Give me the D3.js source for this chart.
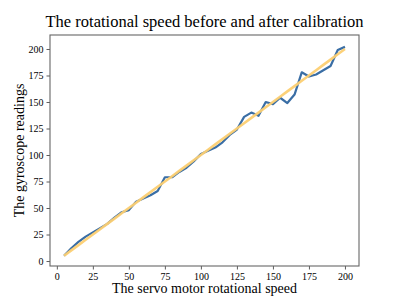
<!DOCTYPE html>
<html><head><meta charset="utf-8">
<script src="https://cdn.jsdelivr.net/npm/d3@7"></script>
<style>body{margin:0;background:#fff}svg{display:block}text{font-family:"Liberation Serif","Times New Roman",serif;fill:#000}</style>
</head><body><svg id="c" width="399" height="299"></svg>
<script>
const speeds = [5,10,15,20,25,30,35,40,45,50,55,60,65,70,75,80,85,90,95,100,105,110,115,120,125,130,135,140,145,150,155,160,165,170,175,180,185,190,195,200];
const gyroRaw = [5,12,18,23,27,31,35,41,46,48,56,59,62,66,79,79,84,88,94,101,104,107,112,119,124,136,140,137,150,148,154,149,157,178,174,176,180,184,199,202];
const calibrated = speeds.slice();
const xTicks = [0,25,50,75,100,125,150,175,200];
const yTicks = [0,25,50,75,100,125,150,175,200];

const svg = d3.select("#c");
const L=50,R=359,T=35,B=266;
const x = d3.scaleLinear().domain([-4.75,209.75]).range([L,R]);
const y = d3.scaleLinear().domain([-4.7,213.2]).range([B,T]);

const line = d3.line().x((d,i)=>x(speeds[i])).y(d=>y(d));
svg.append("path").datum(gyroRaw).attr("d",line).attr("fill","none").attr("stroke","#3a6ea5").attr("stroke-width",2.2).attr("stroke-linejoin","round");
svg.append("path").datum(calibrated).attr("d",line).attr("fill","none").attr("stroke","#fccf72").attr("stroke-width",2.6).attr("stroke-opacity",0.95);

const xa = svg.append("g").attr("transform",`translate(0,${B})`).call(d3.axisBottom(x).tickValues(xTicks).tickSize(3.5).tickPadding(3));
const ya = svg.append("g").attr("transform",`translate(${L},0)`).call(d3.axisLeft(y).tickValues(yTicks).tickSize(3.5).tickPadding(3));
[xa,ya].forEach(a=>{a.select(".domain").remove();a.selectAll("line").attr("stroke","#333").attr("stroke-width",0.8);a.selectAll("text").style("font-family","'Liberation Serif',serif").style("font-size","10px").attr("fill","#000");});

svg.append("rect").attr("x",L).attr("y",T).attr("width",R-L).attr("height",B-T).attr("fill","none").attr("stroke","#666").attr("stroke-width",1.1);

svg.append("text").attr("x",(L+R)/2).attr("y",27).attr("text-anchor","middle").style("font-size","16.5px").text("The rotational speed before and after calibration");
svg.append("text").attr("x",(L+R)/2).attr("y",293).attr("text-anchor","middle").style("font-size","14px").text("The servo motor rotational speed");
svg.append("text").attr("transform",`translate(24,${(T+B)/2}) rotate(-90)`).attr("text-anchor","middle").style("font-size","14px").text("The gyroscope readings");
</script></body></html>
